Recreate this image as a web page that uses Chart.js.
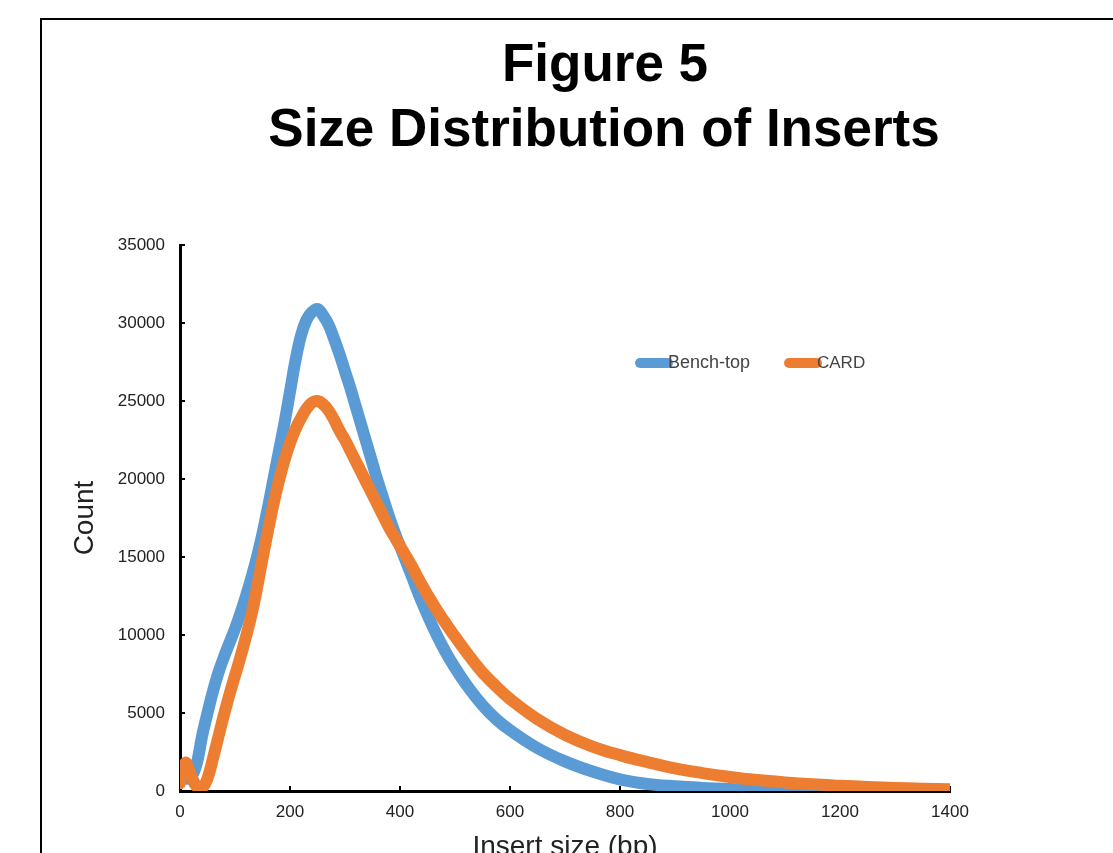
<!DOCTYPE html>
<html>
<head>
<meta charset="utf-8">
<title>Figure 5 - Size Distribution of Inserts</title>
<script src="https://cdn.jsdelivr.net/npm/chart.js@4.4.0/dist/chart.umd.min.js"></script>
<style>
  html, body { margin: 0; padding: 0; background: #fff; }
  #wrap { width: 1113px; height: 853px; }
</style>
</head>
<body>
<div id="wrap"><canvas id="chart" width="1113" height="853"></canvas></div>
<script>
// values
let insertSize = [0,10,20,30,40,50,60,70,80,90,100,110,120,130,140,150,160,170,180,190,
  200,210,220,230,240,250,260,270,280,290,300,310,320,330,340,350,360,370,380,390,
  400,420,440,460,480,500,525,550,575,600,650,700,750,800,850,900,950,1000,1050,1100,
  1150,1200,1250,1300,1350,1400];

let benchTop = [1000,800,900,1700,3500,5000,6400,7600,8600,9500,10400,11400,12500,13700,15000,16500,18200,20000,21800,23600,
  25600,27600,29200,30200,30700,30900,30500,29900,29000,28000,26900,25800,24600,23400,22200,21000,19800,18700,17600,16600,
  15700,13900,12100,10500,9100,7900,6600,5500,4600,3900,2750,1900,1250,750,450,300,200,130,80,40,
  15,5,0,0,0,0];

let card = [500,1800,1000,300,200,800,2100,3500,4900,6200,7400,8600,9900,11300,13000,14900,16700,18400,19900,21200,
  22300,23200,23900,24500,24900,25000,24800,24400,23800,23100,22500,21800,21100,20400,19700,19000,18300,17600,16900,16300,
  15700,14500,13200,12000,10900,9900,8700,7600,6700,5900,4600,3600,2850,2300,1850,1450,1150,900,700,550,
  430,340,260,200,150,120];

let xTicks = [0,200,400,600,800,1000,1200,1400];
let yTicks = [0,5000,10000,15000,20000,25000,30000,35000];

let seriesNames = ["Bench-top", "CARD"];
let seriesColors = ["#5b9bd5", "#ed7d31"];

let titleLines = ["Figure 5", "Size Distribution of Inserts"];

function toPoints(values){
  return insertSize.map(function(x, i){
    return {x: x, y: values[i]};
  });
}

let frame = {
  id: "frame",
  beforeDraw: function(chart){
    let ctx = chart.ctx;
    ctx.save();
    ctx.fillStyle = "#fff";
    ctx.fillRect(0, 0, chart.width, chart.height);
    ctx.strokeStyle = "#000";
    ctx.lineWidth = 2;
    ctx.strokeRect(41, 19, 2000, 2000);
    ctx.restore();
  },
  afterDraw: function(chart){
    let ctx = chart.ctx;
    ctx.save();
    // title
    ctx.fillStyle = "#000";
    ctx.textAlign = "center";
    ctx.textBaseline = "alphabetic";
    ctx.font = "bold 53px 'Liberation Sans', Arial, sans-serif";
    ctx.fillText(titleLines[0], 605, 81);
    ctx.fillText(titleLines[1], 604, 146);

    // legend inside the plot
    let items = [
      {x: 640, w: 28, size: 18},
      {x: 789, w: 28, size: 17}
    ];
    chart.data.datasets.forEach(function(ds, i){
      let it = items[i];
      ctx.strokeStyle = ds.borderColor;
      ctx.lineWidth = 10;
      ctx.lineCap = "round";
      ctx.beginPath();
      ctx.moveTo(it.x, 363);
      ctx.lineTo(it.x + it.w, 363);
      ctx.stroke();
      ctx.fillStyle = "#444";
      ctx.textAlign = "left";
      ctx.textBaseline = "middle";
      ctx.font = it.size + "px 'Liberation Sans', Arial, sans-serif";
      ctx.fillText(ds.label, it.x + it.w, 363);
    });
    ctx.restore();
  }
};

let tickFont = {family: "'Liberation Sans', Arial, sans-serif", size: 17};
let axisTitleFont = {family: "'Liberation Sans', Arial, sans-serif", size: 28, lineHeight: 1.2};

function plainLabel(value){
  return String(value);
}

let chart = new Chart(document.getElementById("chart"), {
  type: "line",
  data: {
    datasets: [
      {
        label: seriesNames[0],
        data: toPoints(benchTop),
        borderColor: seriesColors[0],
        backgroundColor: seriesColors[0],
        borderWidth: 12,
        pointRadius: 0,
        tension: 0.4,
        borderCapStyle: "round",
        borderJoinStyle: "round",
        order: 2
      },
      {
        label: seriesNames[1],
        data: toPoints(card),
        borderColor: seriesColors[1],
        backgroundColor: seriesColors[1],
        borderWidth: 12,
        pointRadius: 0,
        tension: 0.4,
        borderCapStyle: "round",
        borderJoinStyle: "round",
        order: 1
      }
    ]
  },
  options: {
    responsive: false,
    animation: false,
    layout: {
      padding: {left: 60, right: 163, top: 245, bottom: 0}
    },
    plugins: {
      legend: {display: false},
      title: {display: false},
      tooltip: {enabled: false}
    },
    scales: {
      x: {
        type: "linear",
        min: 0,
        max: 1400,
        afterBuildTicks: function(s){
          s.ticks = xTicks.map(function(v){ return {value: v}; });
        },
        afterFit: function(s){
          s.height = 62;
        },
        grid: {
          drawOnChartArea: false,
          drawTicks: true,
          tickLength: -5,
          color: "#000",
          lineWidth: 2
        },
        border: {display: true, color: "#000", width: 3},
        ticks: {
          font: tickFont,
          color: "#222",
          padding: 16,
          maxRotation: 0,
          callback: plainLabel
        },
        title: {
          display: true,
          text: "Insert size (bp)",
          font: axisTitleFont,
          color: "#222",
          padding: {top: 0, bottom: -11}
        }
      },
      y: {
        type: "linear",
        min: 0,
        max: 35000,
        afterBuildTicks: function(s){
          s.ticks = yTicks.map(function(v){ return {value: v}; });
        },
        afterFit: function(s){
          s.width = 120;
        },
        grid: {
          drawOnChartArea: false,
          drawTicks: true,
          tickLength: -5,
          color: "#000",
          lineWidth: 2
        },
        border: {display: true, color: "#000", width: 3},
        ticks: {
          font: tickFont,
          color: "#222",
          padding: 20,
          callback: plainLabel
        },
        title: {
          display: true,
          text: "Count",
          font: axisTitleFont,
          color: "#222",
          padding: {top: 8, bottom: 0}
        }
      }
    }
  },
  plugins: [frame]
});
</script>
</body>
</html>
